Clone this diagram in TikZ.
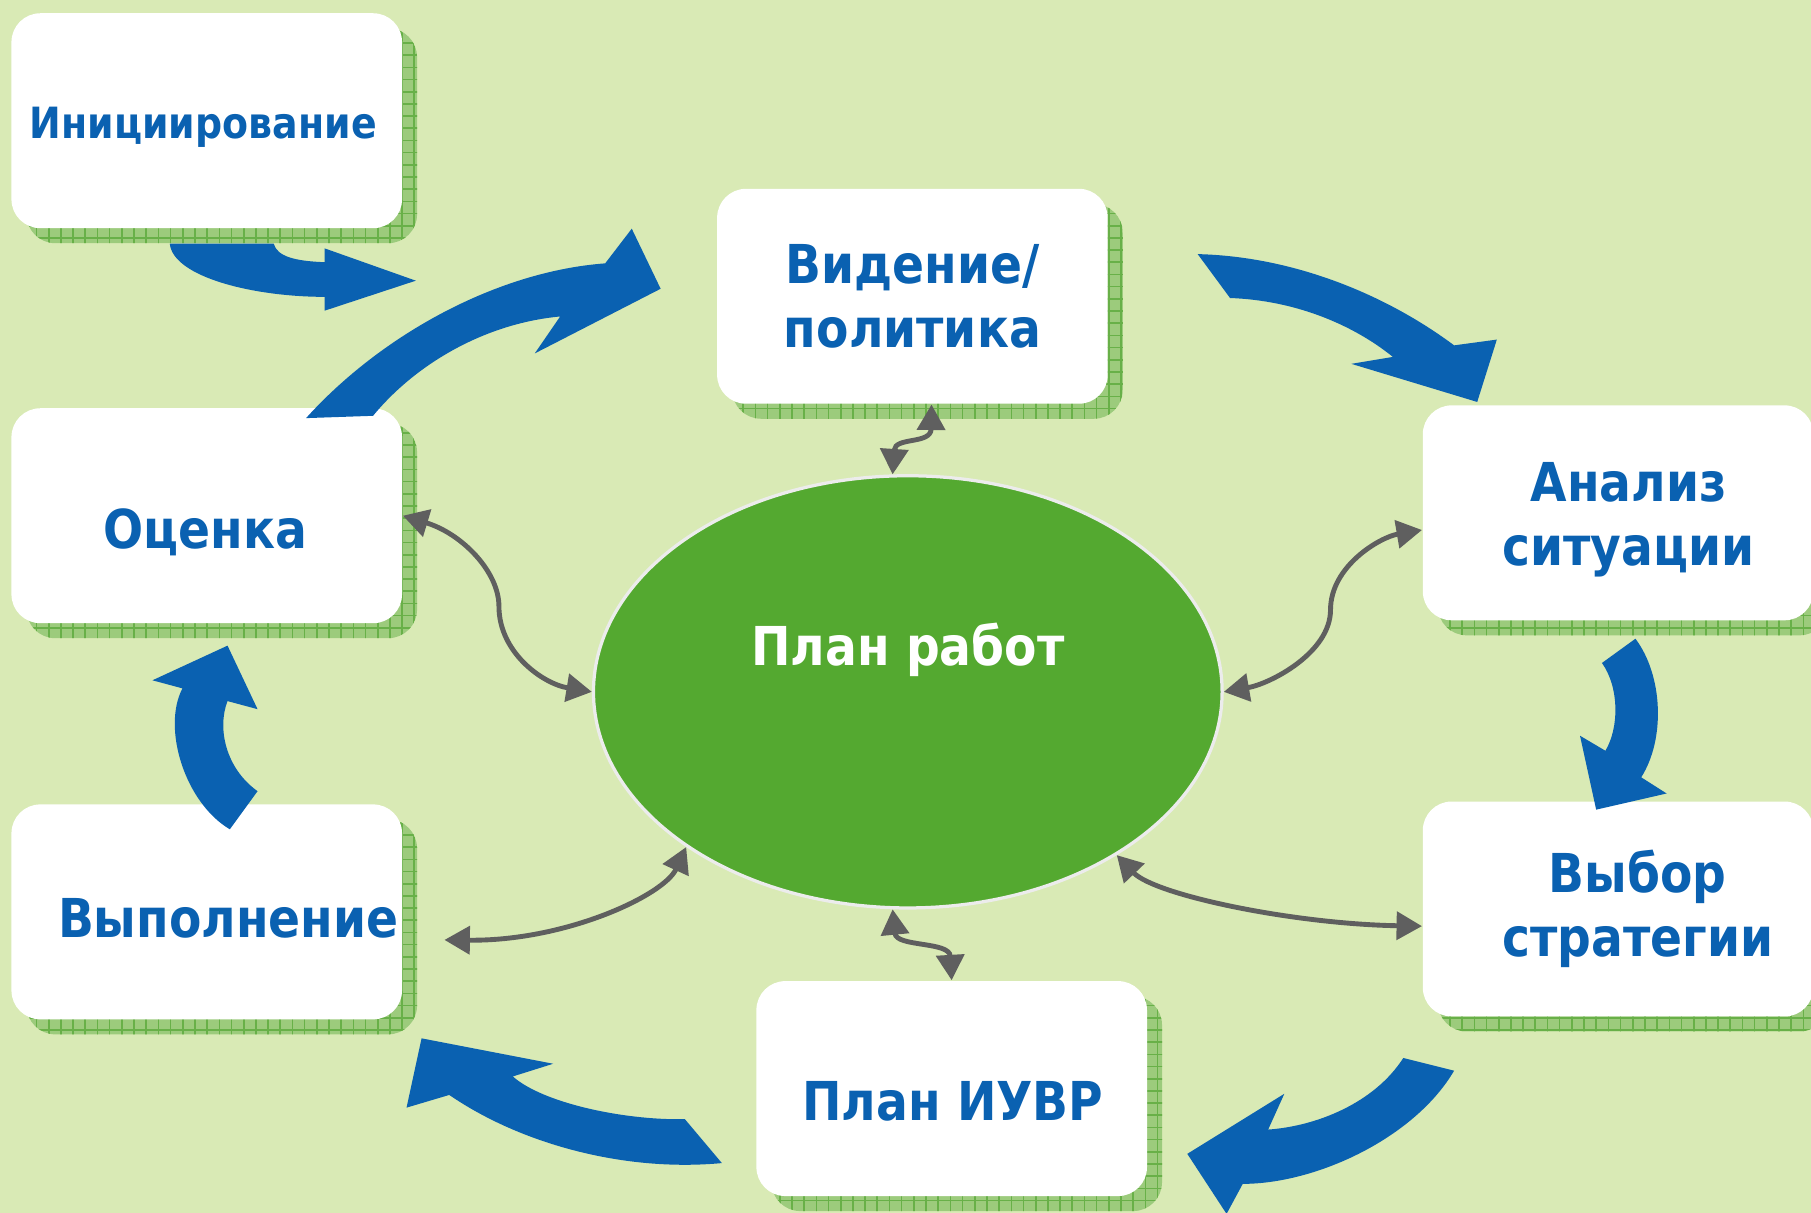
\documentclass[tikz,border=0pt]{standalone}
\usepackage{fontspec}
\setmainfont{DejaVu Sans}[FakeStretch=0.88]
\usetikzlibrary{arrows.meta,shapes.geometric,shadows,patterns}

\definecolor{bggreen}{HTML}{D9EAB5}
\definecolor{shadowgreen}{HTML}{9CCB7C}
\definecolor{gridgreen}{HTML}{68B048}
\definecolor{ovalgreen}{HTML}{54A930}
\definecolor{cycleblue}{HTML}{0A61B1}
\definecolor{linegray}{HTML}{5F5F5F}

\tikzset{
  stepbox/.style={fill=white, rounded corners=0.25cm, minimum width=3.38cm, minimum height=1.86cm, inner sep=0pt,
    drop shadow={shadow xshift=0.13cm, shadow yshift=-0.13cm, fill=shadowgreen, opacity=1},
    drop shadow={shadow xshift=0.13cm, shadow yshift=-0.13cm, pattern=grid, pattern color=gridgreen, opacity=1}},
  txt/.style={text=cycleblue, font=\bfseries\fontsize{13.2}{15.8}\selectfont, anchor=base, align=center, inner sep=0pt},
  conn/.style={{Triangle[length=0.22cm,width=0.24cm]}-{Triangle[length=0.22cm,width=0.24cm]}, draw=linegray, line width=1.2pt},
  bigarrow/.style={fill=cycleblue},
}

\begin{document}
\begin{tikzpicture}[x=0.01cm, y=-0.01cm]

            \useasboundingbox (0,0) rectangle (1568,1050);
            \fill[bggreen] (0,0) rectangle (1568,1050);

            % steps
            \node[stepbox] (inic)    at (179,104.5) {};
            \node[stepbox] (videnie) at (790,256.5) {};
            \node[stepbox] (ocenka)  at (179,446.5) {};
            \node[stepbox] (analiz)  at (1401,444)  {};
            \node[stepbox] (vypoln)  at (179,789.5) {};
            \node[stepbox] (vybor)   at (1401,787)  {};
            \node[stepbox] (iuvr)    at (824,942.5) {};

            \node[ellipse, fill=ovalgreen, draw=white!85!gray, line width=0.8pt,
                  minimum width=5.44cm, minimum height=3.74cm, inner sep=0pt] (plan) at (786,599) {};

            % cycle arrows
            \fill[bigarrow] (147,211) .. controls (150,240) and (220,257) .. (281,257) -- (281,269) -- (360,243)
                -- (281,215) -- (281,227) .. controls (255,226) and (240,222) .. (237,211) -- cycle;
            \fill[bigarrow] (265,362) .. controls (330,290) and (430,235) .. (524,228) -- (547,198) -- (572,250)
                -- (463,306) -- (485,274) .. controls (420,280) and (360,315) .. (323,360) -- cycle;
            \fill[bigarrow] (1037,220) .. controls (1120,222) and (1200,255) .. (1259,299) -- (1296,294) -- (1279,348)
                -- (1170,315) -- (1206,309) .. controls (1170,280) and (1120,260) .. (1065,258) -- cycle;
            \fill[bigarrow] (1416,553) .. controls (1440,585) and (1442,640) .. (1421,673) -- (1443,687) -- (1382,701)
                -- (1368,637) -- (1390,650) .. controls (1402,630) and (1402,595) .. (1387,574) -- cycle;
            \fill[bigarrow] (1259,927) .. controls (1225,985) and (1140,1025) .. (1076,1025) -- (1062,1051) -- (1028,999)
                -- (1112,947) -- (1098,978) .. controls (1140,975) and (1190,955) .. (1215,916) -- cycle;
            \fill[bigarrow] (625,1007) .. controls (540,1015) and (450,990) .. (389,948) -- (352,959) -- (365,899)
                -- (479,921) -- (444,932) .. controls (470,955) and (540,970) .. (593,969) -- cycle;
            \fill[bigarrow] (199,718) .. controls (160,695) and (140,630) .. (158,596) -- (132,589) -- (197,559)
                -- (223,614) -- (197,607) .. controls (188,630) and (195,665) .. (223,685) -- cycle;

            % links to the plan
            \draw[conn] (videnie.-80) .. controls (806,385) and (775,378) .. (plan.94);
            \draw[conn] (ocenka.east) .. controls (400,462) and (432,495) .. (432,525)
                .. controls (432,565) and (470,592) .. (plan.west);
            \draw[conn] (plan.east) .. controls (1100,592) and (1152,565) .. (1152,528)
                .. controls (1152,490) and (1195,465) .. (analiz.185);
            \draw[conn, shorten <=0.36cm] (vypoln.-8) .. controls (490,815) and (575,775) .. (plan.215);
            \draw[conn] (plan.266) .. controls (776,820) and (822,815) .. (iuvr.north);
            \draw[conn] (plan.-38) .. controls (1000,775) and (1120,800) .. (vybor.185);

            % labels
            \node[txt, font=\bfseries\fontsize{10.6}{12}\selectfont] (inic-t) at (176,120) {Инициирование};
            \node[txt] (videnie-t) at (790,300.7)  {Видение/\\политика};
            \node[txt] (ocenka-t)  at (178,475)    {Оценка};
            \node[txt] (analiz-t)  at (1410,490)   {Анализ\\ситуации};
            \node[txt] (vypoln-t)  at (197.6,811.5) {Выполнение};
            \node[txt] (vybor-t)   at (1418,828.5) {Выбор\\стратегии};
            \node[txt] (iuvr-t)    at (825,970)    {План ИУВР};
            \node[txt, text=white] (plan-t) at (786,576) {План работ};

\end{tikzpicture}
\end{document}
